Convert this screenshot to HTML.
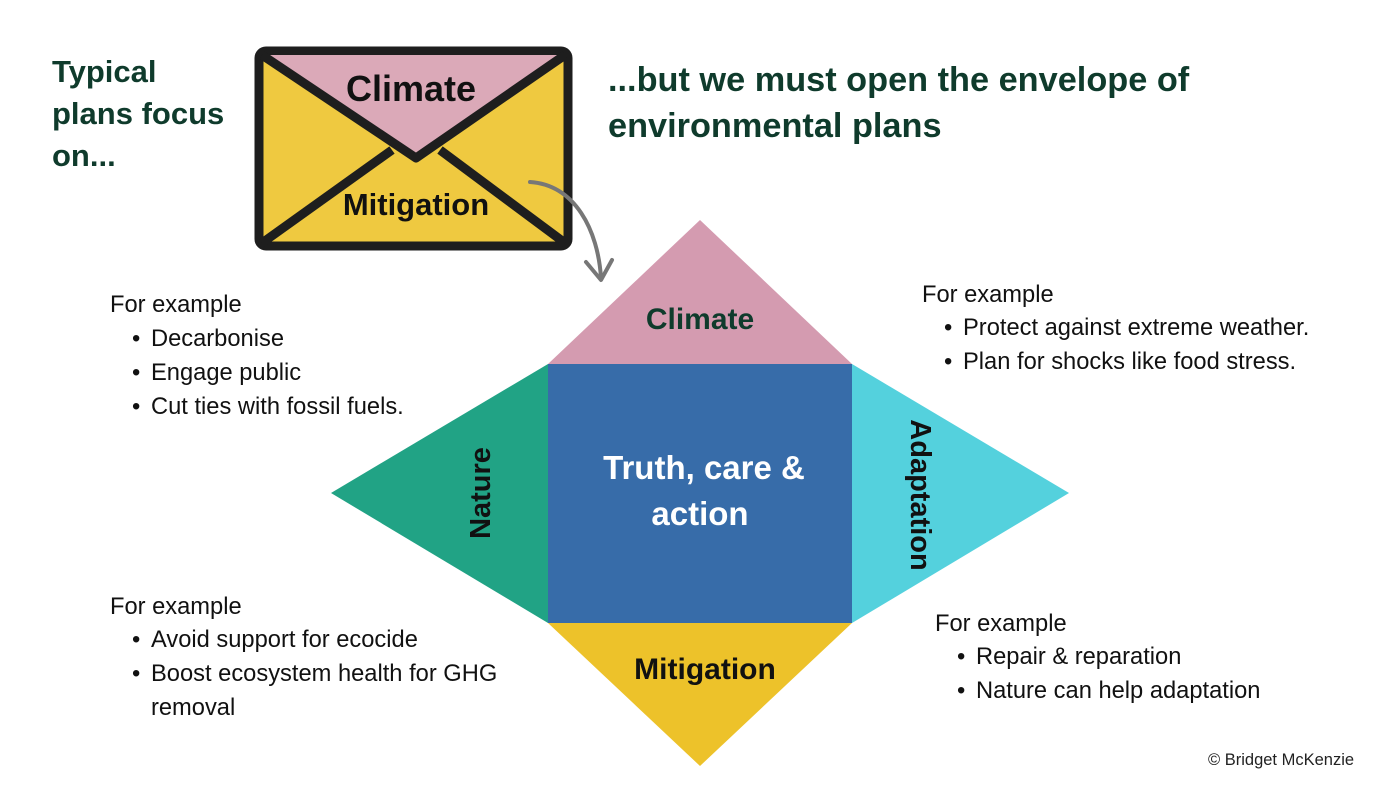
<!DOCTYPE html>
<html><head><meta charset="utf-8"><style>
body{margin:0;background:#fff;}
svg{display:block;font-family:"Liberation Sans",Arial,sans-serif;}
</style></head><body>
<svg width="1400" height="788" viewBox="0 0 1400 788" xmlns="http://www.w3.org/2000/svg">
<rect width="1400" height="788" fill="#fff"/>
<!-- envelope -->
<rect x="259" y="51" width="309" height="195" rx="7" fill="#efc940" stroke="#1e1e1e" stroke-width="9"/>
<path d="M262 55 L565 55 L416 158 Z" fill="#dba9b8"/>
<path d="M262 55 L416 158 L565 55" fill="none" stroke="#1e1e1e" stroke-width="9" stroke-linejoin="round"/>
<line x1="262" y1="243" x2="392" y2="150" stroke="#1e1e1e" stroke-width="9"/>
<line x1="565" y1="243" x2="440" y2="150" stroke="#1e1e1e" stroke-width="9"/>
<text x="411" y="101" font-size="36" font-weight="bold" text-anchor="middle" fill="#111">Climate</text>
<text x="416" y="215" font-size="31" font-weight="bold" text-anchor="middle" fill="#111">Mitigation</text>
<!-- arrow -->
<path d="M530 182 C575 185 598 230 601 278" fill="none" stroke="#777" stroke-width="4" stroke-linecap="round"/>
<path d="M586 262 L601 280 L612 260" fill="none" stroke="#777" stroke-width="4" stroke-linecap="round" stroke-linejoin="round"/>
<!-- headings -->
<text font-size="31" font-weight="bold" fill="#0f3b2c"><tspan x="52" y="82">Typical</tspan><tspan x="52" y="124">plans focus</tspan><tspan x="52" y="166">on...</tspan></text>
<text font-size="34.3" font-weight="bold" fill="#0f3b2c"><tspan x="608" y="91">...but we must open the envelope of</tspan><tspan x="608" y="137">environmental plans</tspan></text>
<!-- diamond -->
<polygon points="700,220 852,364 548,364" fill="#d49bb0"/>
<polygon points="548,364 548,623 331,493" fill="#21a385"/>
<polygon points="852,364 1069,493 852,623" fill="#54d1dd"/>
<polygon points="548,623 852,623 700,766" fill="#edc22a"/>
<rect x="548" y="364" width="304" height="259" fill="#376ca9"/>
<text x="700" y="329" font-size="30" font-weight="bold" text-anchor="middle" fill="#0f3b2c">Climate</text>
<text x="705" y="679" font-size="30" font-weight="bold" text-anchor="middle" fill="#111">Mitigation</text>
<text font-size="33" font-weight="bold" text-anchor="middle" fill="#fff"><tspan x="704" y="479">Truth, care &amp;</tspan><tspan x="700" y="525">action</tspan></text>
<text transform="translate(490,493) rotate(-90)" font-size="29" font-weight="bold" text-anchor="middle" fill="#111">Nature</text>
<text transform="translate(911,495) rotate(90)" font-size="29" font-weight="bold" text-anchor="middle" fill="#111">Adaptation</text>
<!-- examples -->
<g font-size="23.7" fill="#111">
<text x="110" y="312">For example</text>
<text x="132" y="346">•</text><text x="151" y="346">Decarbonise</text>
<text x="132" y="380">•</text><text x="151" y="380">Engage public</text>
<text x="132" y="414">•</text><text x="151" y="414">Cut ties with fossil fuels.</text>
<text x="922" y="302">For example</text>
<text x="944" y="335">•</text><text x="963" y="335">Protect against extreme weather.</text>
<text x="944" y="369">•</text><text x="963" y="369">Plan for shocks like food stress.</text>
<text x="110" y="614">For example</text>
<text x="132" y="647">•</text><text x="151" y="647">Avoid support for ecocide</text>
<text x="132" y="681">•</text><text x="151" y="681">Boost ecosystem health for GHG</text>
<text x="151" y="715">removal</text>
<text x="935" y="631">For example</text>
<text x="957" y="664">•</text><text x="976" y="664">Repair &amp; reparation</text>
<text x="957" y="698">•</text><text x="976" y="698">Nature can help adaptation</text>
</g>
<text x="1208" y="765" font-size="16.5" fill="#222">© Bridget McKenzie</text>
</svg>
</body></html>
